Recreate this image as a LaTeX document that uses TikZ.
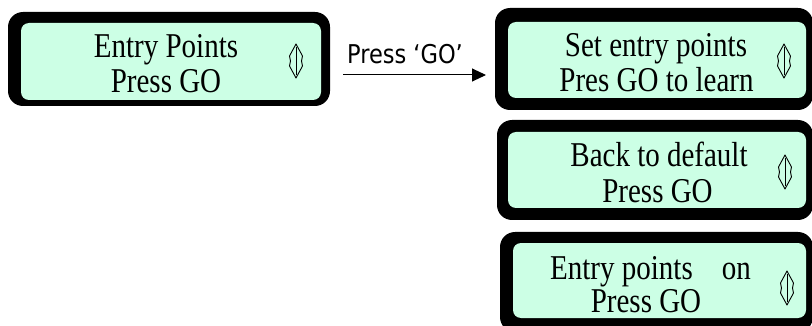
\documentclass[tikz,border=0pt]{standalone}
\usepackage{fontspec}
\usepackage{xcolor}
\usetikzlibrary{arrows.meta}
\newfontfamily\lcdfont{Liberation Serif}
\newfontfamily\teclafont{DejaVu Sans}
\definecolor{menta}{HTML}{CCFFE5}

\begin{document}
\begin{tikzpicture}[x=1pt, y=-1pt, line join=round,
  marco/.style={fill=black, rounded corners=15pt, inner sep=0pt, outer sep=0pt},
  pantalla/.style={fill=menta, rounded corners=8pt, inner sep=0pt, outer sep=0pt},
  linea/.style={font=\lcdfont\fontsize{29}{28}\selectfont, inner sep=0pt, anchor=base, yscale=1.2, transform shape},
  pics/flechas/.style={code={
    \draw[line width=0.9pt] (0,-17) -- (6.5,-5) -- (5.5,0) -- (6.5,5) -- (0,17)
      -- (-6.5,5) -- (-5.5,0) -- (-6.5,-5) -- cycle;
    \draw[line width=0.9pt] (0,-14) -- (0,14);
  }}]
  \clip (0,0) rectangle (812,326);
  \fill[white] (0,0) rectangle (812,326);

  % Menu principal
  \node[marco, minimum width=322pt, minimum height=94pt] (fA) at (169,59) {};
  \node[pantalla, minimum width=300pt, minimum height=77pt] (sA) at (171,61.5) {};
  \node[linea] (tA1) at (166,58) {Entry Points};
  \node[linea] (tA2) at (166,93) {Press GO};
  \pic at (296,61) {flechas};

  % Paso con la tecla
  \coordinate (goIni) at (343,75);
  \coordinate (goFin) at (486,75);
  \draw[-{Triangle[length=14pt, width=13pt]}, line width=1pt] (goIni) -- (goFin);
  \node[font=\teclafont\fontsize{22.5}{26}\selectfont, inner sep=0pt, anchor=base, yscale=1.15, transform shape] (tecla) at (405,64) {Press ‘GO’};

  % Submenu: aprender
  \node[marco, minimum width=318pt, minimum height=102pt] (fB) at (654,59) {};
  \node[pantalla, minimum width=298pt, minimum height=76pt] (sB) at (657,60) {};
  \node[linea] (tB1) at (656,57) {Set entry points};
  \node[linea] (tB2) at (656.5,92) {Pres GO to learn};
  \pic at (784,61) {flechas};

  % Submenu: valores por defecto
  \node[marco, minimum width=316pt, minimum height=100pt] (fC) at (655,170) {};
  \node[pantalla, minimum width=298pt, minimum height=76pt] (sC) at (657,170) {};
  \node[linea] (tC1) at (659,167) {Back to default};
  \node[linea] (tC2) at (657.5,203) {Press GO};
  \pic at (785,172) {flechas};

  % Submenu: activar
  \node[marco, minimum width=313pt, minimum height=100pt] (fD) at (656.5,282) {};
  \node[pantalla, minimum width=293pt, minimum height=75pt] (sD) at (659.5,280.5) {};
  \node[linea] (tD1) at (650.5,279) {Entry points\hspace{29pt}on};
  \node[linea] (tD2) at (646,312) {Press GO};
  \pic at (787,288) {flechas};
\end{tikzpicture}
\end{document}
